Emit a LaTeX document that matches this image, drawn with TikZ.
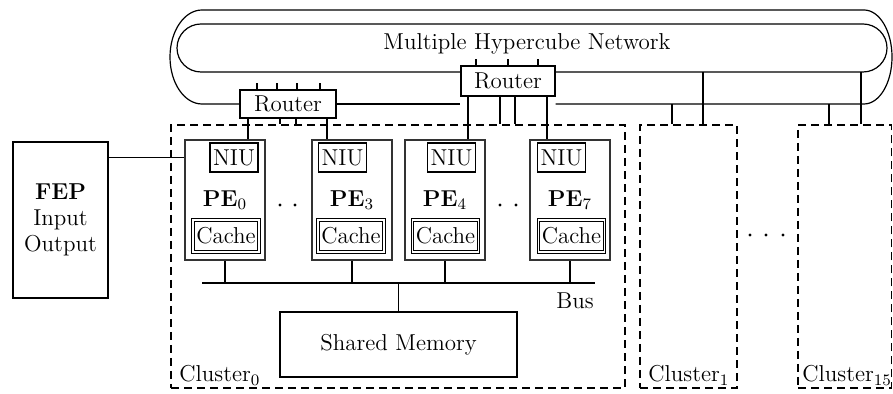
\documentclass[tikz,border=0pt]{standalone}
\usetikzlibrary{calc}
\begin{document}
\begin{tikzpicture}[x=0.5pt,y=-0.5pt,
  font=\fontsize{11.5}{13}\selectfont,
  wire/.style={line width=0.6pt},
  box/.style={draw, line width=0.7pt, fill=white, inner sep=0pt},
  pebox/.style={draw=black!80, line width=1pt, fill=white, minimum width=40pt, minimum height=60pt, inner sep=0pt},
  niubox/.style={draw, line width=0.9pt, fill=white, minimum width=24pt, minimum height=14.5pt, inner sep=0pt},
  cachebox/.style={draw, double, double distance=0.8pt, line width=0.4pt, fill=white, minimum width=33pt, minimum height=16pt, inner sep=0pt},
  router/.style={draw, line width=0.7pt, fill=white, inner sep=0pt},
  cluster/.style={draw, dash pattern=on 4pt off 2.5pt, line width=0.7pt, inner sep=0pt},
  lbl/.style={inner sep=0pt, anchor=base west},
]
\useasboundingbox (0,0) rectangle (893,394);

% inner ring of the network
\draw[wire, rounded corners=12pt] (177,24) rectangle (887,72);
\node (title) at (527,44) {Multiple Hypercube Network};

% routers
\node[router, minimum width=48pt, minimum height=14pt] (LR) at (288,104) {Router};
\node[router, minimum width=47pt, minimum height=15pt] (UR) at (508,81) {Router};

% outer ring of the network
\draw[wire] (LR.west) -- (202,104)
  arc[start angle=270, end angle=90, x radius=16pt, y radius=23.5pt]
  -- (864,10)
  arc[start angle=90, end angle=-90, x radius=14pt, y radius=23.5pt]
  -- (UR.east |- LR.west);
\draw[wire] (LR.east) -- (UR.west |- LR.east);

% router stubs
\foreach \s in {-15.5pt,-5.5pt,4.5pt,16pt}
  \draw[wire] ([xshift=\s]LR.north) -- ++(0,-6);
\foreach \s in {-16pt,0pt,15pt}
  \draw[wire] ([xshift=\s]UR.north) -- ++(0,-6);

% clusters
\node[cluster, minimum width=227pt, minimum height=131.5pt] (C0) at (398,256.5) {};
\node[cluster, minimum width=48.5pt, minimum height=131.5pt] (C1) at (688.5,256.5) {};
\node[cluster, minimum width=46.75pt, minimum height=131.5pt] (C15) at (844.75,256.5) {};
\node[lbl] (L0) at (179,382) {Cluster$_0$};
\node[lbl] (L1) at (648,382) {Cluster$_1$};
\node[lbl] (L15) at (802,382) {Cluster$_{15}$};

% FEP
\node[box, minimum width=47.5pt, minimum height=78pt, align=center] (FEP) at (60.5,220)
  {\textbf{FEP}\\Input\\Output};

% PEs
\node[pebox] (PE0) at (225,200) {\textbf{PE}$_0$};
\node[pebox] (PE3) at (352,200) {\textbf{PE}$_3$};
\node[pebox] (PE4) at (445,200) {\textbf{PE}$_4$};
\node[pebox] (PE7) at (570,200) {\textbf{PE}$_7$};

\node[niubox] (NIU0) at (234,157.5) {NIU};
\node[niubox] (NIU3) at (342.5,157.5) {NIU};
\node[niubox] (NIU4) at (451.5,157.5) {NIU};
\node[niubox] (NIU7) at (561.5,157.5) {NIU};

\node[cachebox] (CA0) at (226,236) {Cache};
\node[cachebox] (CA3) at (351,236) {Cache};
\node[cachebox] (CA4) at (445.5,236) {Cache};
\node[cachebox] (CA7) at (571.5,236) {Cache};

% dots
\foreach \x in {280,295,500,516}
  \fill (\x,205) circle[radius=0.8pt];
\foreach \x in {750,766,783}
  \fill (\x,235) circle[radius=0.8pt];

% bus and shared memory
\coordinate (busL) at (202,283);
\coordinate (busR) at (595,283);
\draw[line width=1.1pt] (busL) -- (busR);
\node (bus) at (575,301) {Bus};
\node[box, minimum width=118.5pt, minimum height=32.5pt] (SM) at (398.5,344.5) {Shared Memory};

\foreach \p in {PE0,PE3,PE4,PE7}
  \draw[wire] (\p.south) -- (\p.south |- busL);
\draw[wire] (SM.north) -- (SM.north |- busL);

% FEP link
\draw[wire] (FEP.east |- NIU0) -- (PE0.west |- NIU0);

% router links
\draw[wire] ([xshift=-20pt]LR.south) -- ([xshift=-20pt]LR.south |- PE0.north);
\draw[wire] ([xshift=-4pt]LR.south) -- ([xshift=-4pt]LR.south |- C0.north);
\draw[wire] ([xshift=4pt]LR.south) -- ([xshift=4pt]LR.south |- C0.north);
\draw[wire] ([xshift=19.5pt]LR.south) -- ([xshift=19.5pt]LR.south |- PE3.north);

\draw[wire] ([xshift=-20pt]UR.south) -- ([xshift=-20pt]UR.south |- PE4.north);
\draw[wire] ([xshift=-4pt]UR.south) -- ([xshift=-4pt]UR.south |- C0.north);
\draw[wire] ([xshift=3.5pt]UR.south) -- ([xshift=3.5pt]UR.south |- C0.north);
\draw[wire] ([xshift=19.5pt]UR.south) -- ([xshift=19.5pt]UR.south |- PE7.north);

% network links to other clusters
\coordinate (ob1) at (672,104);
\coordinate (ib1) at (703,72);
\coordinate (ob15) at (829,104);
\coordinate (ib15) at (861,72);
\draw[wire] (ob1) -- (ob1 |- C1.north);
\draw[wire] (ib1) -- (ib1 |- C1.north);
\draw[wire] (ob15) -- (ob15 |- C15.north);
\draw[wire] (ib15) -- (ib15 |- C15.north);
\end{tikzpicture}
\end{document}
